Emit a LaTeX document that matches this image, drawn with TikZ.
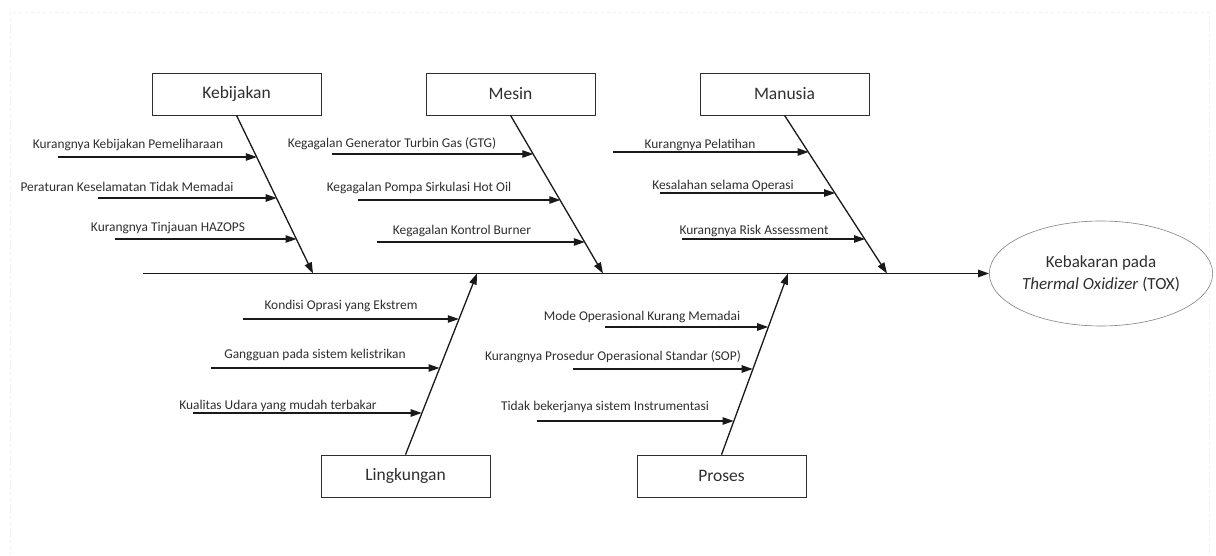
\documentclass[tikz,border=0pt]{standalone}
\usepackage{fontspec}
\setmainfont{Carlito}
\usetikzlibrary{arrows.meta, shapes.geometric, positioning}
\definecolor{inkgray}{HTML}{2E2E2E}
\tikzset{>={Triangle[length=11pt,width=7.5pt]},
         category/.style={draw=inkgray,line width=0.7pt,minimum width=169pt,minimum height=42pt,
                          font=\fontsize{17.5}{20}\selectfont,text=inkgray},
         effect/.style={ellipse,draw=gray,line width=0.6pt,minimum width=214pt,minimum height=105pt,
                        inner sep=0pt,align=center,font=\fontsize{17}{22}\selectfont,text=inkgray},
         cause/.style={inner sep=0pt,font=\fontsize{13.4}{15}\selectfont,text=inkgray},
         bone/.style={->,line width=1.3pt,black!90},
         sub/.style={->,line width=1.1pt,black!90}}
\begin{document}
\begin{tikzpicture}[x=1pt,y=-1pt]
        \useasboundingbox (0,0) rectangle (1216,556);
        \draw[gray!12,dashed](10,555)--(10,12)--(1209,12)--(1209,555);

        \node[category](kebijakan)at(236.5,94){Kebijakan};
        \node[category](mesin)at(510.5,94){Mesin};
        \node[category](manusia)at(784.5,94){Manusia};
        \node[category](lingkungan)at(405.5,476){Lingkungan};
        \node[category](proses)at(721.5,476){Proses};
        \node[effect](tox)at(1101,273.5){Kebakaran pada\\\textit{Thermal Oxidizer} (TOX)};

        \coordinate(tail)at(143,273.5);
        \draw[bone](tail)to(tox.west);

        \coordinate(kb)at(313,273.5);
        \coordinate(ms)at(603,273.5);
        \coordinate(mn)at(887,273.5);
        \coordinate(lk)at(477,273.5);
        \coordinate(ps)at(788,273.5);
        \draw[bone](kebijakan.south)to(kb);
        \draw[bone](mesin.south)to(ms);
        \draw[bone](manusia.south)to(mn);
        \draw[bone](lingkungan.north)to(lk);
        \draw[bone](proses.north)to(ps);

        % Kebijakan
        \coordinate(k1a)at(58,157);  \coordinate(k1)at(256.8,157);
        \coordinate(k2a)at(98,198);  \coordinate(k2)at(276.7,198);
        \coordinate(k3a)at(115,239); \coordinate(k3)at(296.5,239);
        \draw[sub](k1a)to(k1);
        \draw[sub](k2a)to(k2);
        \draw[sub](k3a)to(k3);
        \node[cause](k1t)at(128,145){Kurangnya Kebijakan Pemeliharaan};
        \node[cause](k2t)at(127,187){Peraturan Keselamatan Tidak Memadai};
        \node[cause](k3t)at(168,228){Kurangnya Tinjauan HAZOPS};

        % Mesin
        \coordinate(m1a)at(332,154); \coordinate(m1)at(533.3,154);
        \coordinate(m2a)at(358,200); \coordinate(m2)at(560.3,200);
        \coordinate(m3a)at(377,242); \coordinate(m3)at(584.8,242);
        \draw[sub](m1a)to(m1);
        \draw[sub](m2a)to(m2);
        \draw[sub](m3a)to(m3);
        \node[cause](m1t)at(392,144){Kegagalan Generator Turbin Gas (GTG)};
        \node[cause](m2t)at(419,188){Kegagalan Pompa Sirkulasi Hot Oil};
        \node[cause](m3t)at(462,231){Kegagalan Kontrol Burner};

        % Manusia
        \coordinate(h1a)at(613,152); \coordinate(h1)at(808.5,152);
        \coordinate(h2a)at(660,193); \coordinate(h2)at(835.1,193);
        \coordinate(h3a)at(682,239); \coordinate(h3)at(865,239);
        \draw[sub](h1a)to(h1);
        \draw[sub](h2a)to(h2);
        \draw[sub](h3a)to(h3);
        \node[cause](h1t)at(700,145){Kurangnya Pelatihan};
        \node[cause](h2t)at(723,186){Kesalahan selama Operasi};
        \node[cause](h3t)at(754,231){Kurangnya Risk Assessment};

        % Lingkungan
        \coordinate(l1a)at(243,319); \coordinate(l1)at(458.8,319);
        \coordinate(l2a)at(211,368); \coordinate(l2)at(439.5,368);
        \coordinate(l3a)at(193,413); \coordinate(l3)at(421.7,413);
        \draw[sub](l1a)to(l1);
        \draw[sub](l2a)to(l2);
        \draw[sub](l3a)to(l3);
        \node[cause](l1t)at(341,306){Kondisi Oprasi yang Ekstrem};
        \node[cause](l2t)at(315,355){Gangguan pada sistem kelistrikan};
        \node[cause](l3t)at(278,406){Kualitas Udara yang mudah terbakar};

        % Proses
        \coordinate(p1a)at(605,327); \coordinate(p1)at(768.2,327);
        \coordinate(p2a)at(573,369); \coordinate(p2)at(752.7,369);
        \coordinate(p3a)at(537,421); \coordinate(p3)at(733.6,421);
        \draw[sub](p1a)to(p1);
        \draw[sub](p2a)to(p2);
        \draw[sub](p3a)to(p3);
        \node[cause](p1t)at(642,317){Mode Operasional Kurang Memadai};
        \node[cause](p2t)at(613,357){Kurangnya Prosedur Operasional Standar (SOP)};
        \node[cause](p3t)at(605,407){Tidak bekerjanya sistem Instrumentasi};
\end{tikzpicture}
\end{document}
